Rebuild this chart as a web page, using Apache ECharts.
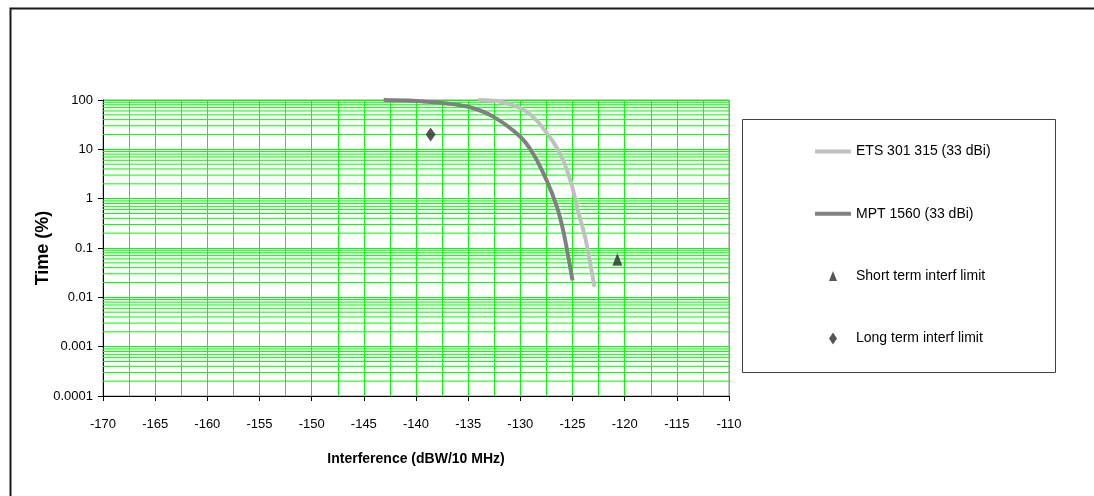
<!DOCTYPE html>
<html><head><meta charset="utf-8">
<script src="https://cdn.jsdelivr.net/npm/echarts@6/dist/echarts.min.js"></script>
<style>html,body{margin:0;padding:0;background:#fff}#c{width:1094px;height:496px}</style>
</head><body><div id="c"></div><script>
// Series data: [interference dBW/10MHz, time %]
const etsName = 'ETS 301 315 (33 dBi)';
const mptName = 'MPT 1560 (33 dBi)';
const shortName = 'Short term interf limit';
const longName = 'Long term interf limit';
const etsData = [[-134.0,100],[-132.6,97],[-131.3,86],[-130.0,68],[-128.8,46],[-127.2,18],[-126.05,7.1],[-125.1,2.0],[-124.5,0.59],[-123.8,0.17],[-123.3,0.049],[-122.9,0.0164]];
const mptData = [[-143.1,100],[-140.3,97],[-137.7,88],[-135.0,73],[-132.6,46],[-130.0,18],[-128.8,8.3],[-127.5,2.4],[-126.5,0.69],[-125.9,0.23],[-125.4,0.066],[-125.0,0.022]];
const shortTermData = [[-120.7,0.059]];
const longTermData = [[-138.6,20]];
const xMin = -170, xMax = -110, xStep = 5;
const yDecades = [0.0001,0.001,0.01,0.1,1,10,100];

const FONT = "'Liberation Sans', Arial, sans-serif";
const GREEN = '#00ff00';

// minor log grid values 2..9 in each decade (axis structure, not data)
const minorVals = [];
yDecades.slice(0, -1).forEach(d => { for (let m = 2; m <= 9; m++) minorVals.push(+(d*m).toPrecision(6)); });

const minorSeries = minorVals.map((v, i) => ({
  type: 'line', name: 'grid' + i, data: [[xMin, v], [xMax, v]], symbol: 'none', silent: true,
  z: 1, animation: false, legendHoverLink: false, tooltip: {show: false},
  lineStyle: {color: GREEN, width: 1}, itemStyle: {color: GREEN}, emphasis: {disabled: true}
}));

const chart = echarts.init(document.getElementById('c'), null, {renderer:'canvas'});
chart.setOption({
  animation: false,
  backgroundColor: '#fff',
  textStyle: {fontFamily: FONT, color: '#000'},
  grid: {left: 103, right: 365, top: 100, bottom: 100, show: true, borderColor: '#909090', borderWidth: 1, backgroundColor: 'transparent'},
  xAxis: {
    type: 'value', min: xMin, max: xMax, interval: xStep,
    name: 'Interference (dBW/10 MHz)', nameLocation: 'middle', nameGap: 56, nameMoveOverlap: false,
    nameTextStyle: {fontFamily: FONT, fontSize: 14, fontWeight: 'bold', color: '#000'},
    axisLine: {show: true, onZero: false, lineStyle: {color: '#000', width: 1}},
    axisTick: {show: true, length: 5, inside: false, lineStyle: {color: '#000'}},
    axisLabel: {fontFamily: FONT, fontSize: 13, color: '#000', margin: 22},
    splitLine: {show: true, lineStyle: {color: GREEN, width: 1, opacity: 1}},
    minorTick: {show: false, splitNumber: 2},
    minorSplitLine: {show: true, lineStyle: {color: GREEN, width: 1, opacity: 1}}
  },
  yAxis: {
    type: 'log', logBase: 10, min: yDecades[0], max: yDecades[yDecades.length-1], splitNumber: 6,
    name: 'Time (%)', nameLocation: 'middle', nameGap: 51, nameRotate: 90, nameMoveOverlap: false,
    nameTextStyle: {fontFamily: FONT, fontSize: 18, fontWeight: 'bold', color: '#000'},
    axisLine: {show: true, lineStyle: {color: '#000', width: 1}},
    axisTick: {show: true, length: 5, inside: false, lineStyle: {color: '#000'}},
    axisLabel: {fontFamily: FONT, fontSize: 13, color: '#000', margin: 10,
      formatter: v => String(parseFloat(Number(v).toPrecision(6)))},
    splitLine: {show: true, lineStyle: {color: GREEN, width: 1, opacity: 1}}
  },
  legend: {
    orient: 'vertical', left: 815, top: 144.5, padding: 0, itemWidth: 36, itemHeight: 14, itemGap: 48.3,
    textStyle: {fontFamily: FONT, fontSize: 14, color: '#000', lineHeight: 14},
    data: [
      {name: etsName, icon: 'path://M0,0M0,14M0,5L36,5L36,9L0,9Z'},
      {name: mptName, icon: 'path://M0,0M0,14M0,5L36,5L36,9L0,9Z'},
      {name: shortName, icon: 'path://M0,0M0,14M4,2L8,12L0,12Z'},
      {name: longName, icon: 'path://M0,0M0,14M4,1L8,7L4,13L0,7Z'}
    ],
    selectedMode: false
  },
  graphic: [
    {type: 'rect', left: 8, top: 6, shape: {x: 0, y: 0, width: 1200, height: 600}, style: {fill: 'none', stroke: '#1a1a1a', lineWidth: 2}, silent: true, z: 100},
    {type: 'rect', shape: {x: 742.5, y: 119.5, width: 313, height: 253}, style: {fill: 'none', stroke: '#404040', lineWidth: 1}, silent: true, z: 100}
  ],
  series: minorSeries.concat([
    {type: 'line', name: etsName, data: etsData, smooth: 0.3, symbol: 'none', z: 3,
      lineStyle: {color: '#c0c0c0', width: 4}, itemStyle: {color: '#c0c0c0'}},
    {type: 'line', name: mptName, data: mptData, smooth: 0.3, symbol: 'none', z: 3,
      lineStyle: {color: '#808080', width: 4}, itemStyle: {color: '#808080'}},
    {type: 'scatter', name: shortName, data: shortTermData, symbol: 'triangle', symbolSize: [10,13], z: 4,
      itemStyle: {color: '#2b2b2b'}},
    {type: 'scatter', name: longName, data: longTermData, symbol: 'diamond', symbolSize: [10,14], z: 4,
      itemStyle: {color: '#2b2b2b'}}
  ])
});
</script></body></html>
